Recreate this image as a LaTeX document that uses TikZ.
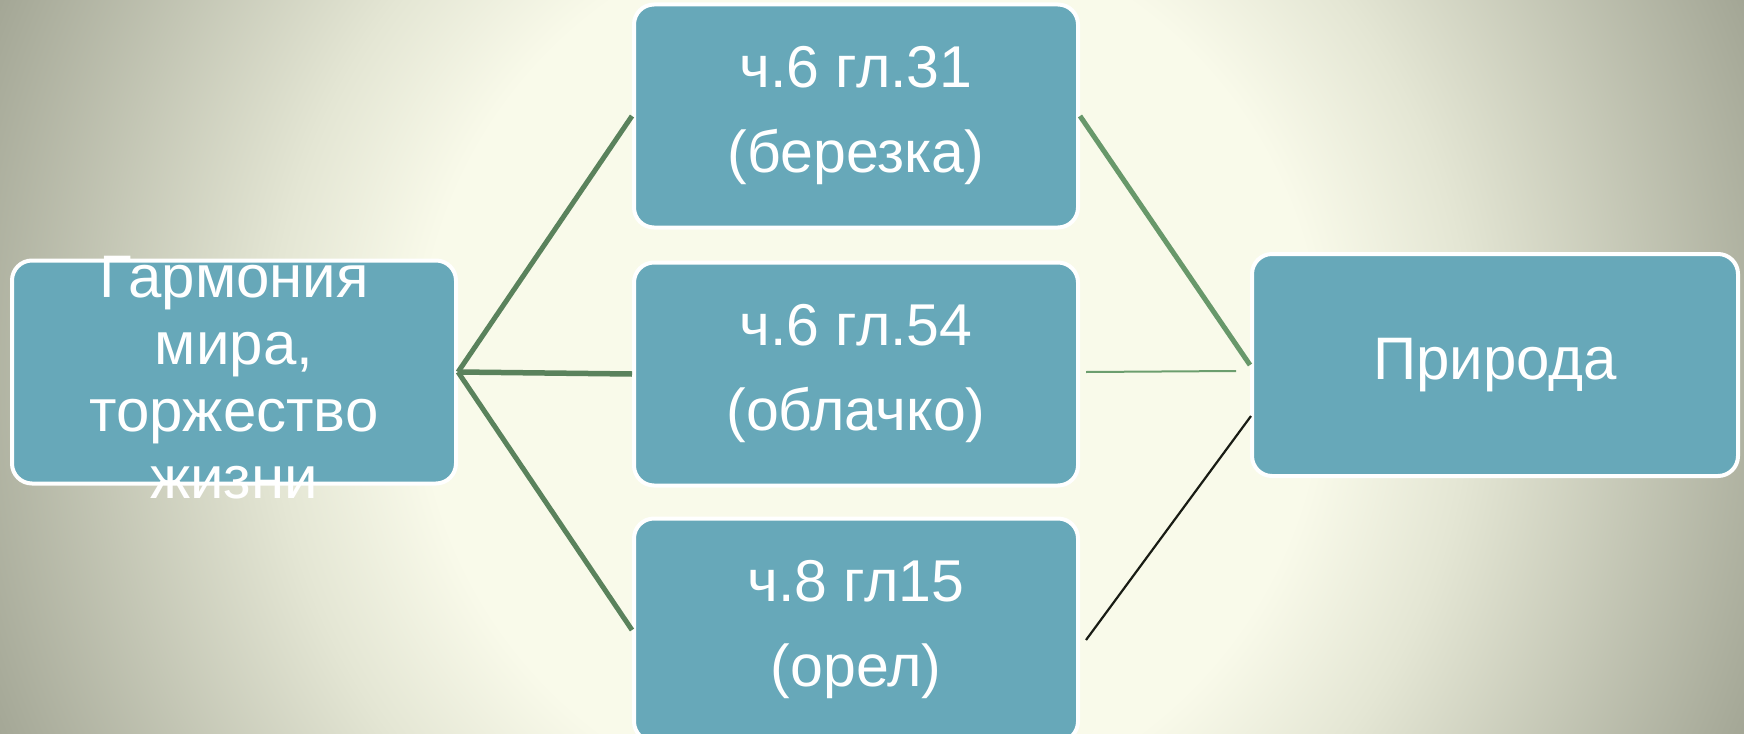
\documentclass[tikz,border=0pt]{standalone}
\usepackage{fontspec}
\setmainfont{Liberation Sans}
\usetikzlibrary{calc}
\definecolor{boxblue}{RGB}{103,168,185}
\definecolor{bgin}{RGB}{249,250,234}
\definecolor{bgmid}{RGB}{228,230,212}
\definecolor{bgdark}{RGB}{164,167,150}
\definecolor{bgout}{RGB}{150,153,136}
\definecolor{lgreen}{RGB}{90,130,92}
\definecolor{rgreen}{RGB}{104,152,106}
\definecolor{tgreen}{RGB}{108,158,110}
\definecolor{dline}{RGB}{25,28,20}
\pgfdeclareradialshading{bgshade}{\pgfpoint{0bp}{0bp}}{color(0bp)=(bgin); color(11.25bp)=(bgin); color(15bp)=(bgmid); color(23.6bp)=(bgdark); color(25bp)=(bgout); color(50bp)=(bgout)}
\begin{document}
\begin{tikzpicture}[x=1pt,y=-1pt,
  card/.style={draw=white, line width=4pt, fill=boxblue, rounded corners=20pt,
    inner sep=0pt, text=white, align=center,
    font=\fontsize{59}{85}\selectfont},
  wide/.style={card, minimum width=444pt, minimum height=223pt},
  thickline/.style={line width=5pt, lgreen},
]
\useasboundingbox (0,0) rectangle (1744,733);
\begin{scope}
\clip (0,0) rectangle (1744,733);
\fill[bgout] (0,0) rectangle (1744,733);
\shade[shading=bgshade] (870,370) circle[radius=1000pt];
\end{scope}

\node[wide] (top) at (856,116) {ч.6 гл.31\\(березка)};
\node[wide] (mid) at (856,374) {ч.6 гл.54\\(облачко)};
\node[wide] (bot) at (856,630) {ч.8 гл15\\(орел)};
\node[card, minimum width=486pt, minimum height=222pt, font=\fontsize{60}{72}\selectfont] (prir) at (1495,365) {Природа};
\node[card, minimum width=444pt, minimum height=223pt] (garm) at (234,372) {};
\node[text=white, align=center, inner sep=0pt, font=\fontsize{60}{67}\selectfont] (garmtext) at (234,378) {Гармония\\мира,\\торжество\\жизни};

\draw[thickline] (garm.east) -- (top.west);
\draw[thickline, line width=5.5pt] (garm.east) -- (mid.west);
\draw[thickline] (garm.east) -- (bot.west);
\draw[line width=5pt, rgreen] (top.east) -- (prir.west);
\draw[line width=2pt, tgreen] ([xshift=6pt,yshift=2pt]mid.east) -- ([xshift=-14pt,yshift=-6pt]prir.west);
\draw[line width=2.2pt, dline] ([xshift=6pt,yshift=-10pt]bot.east) -- ([xshift=1pt,yshift=-51pt]prir.west);
\end{tikzpicture}
\end{document}
